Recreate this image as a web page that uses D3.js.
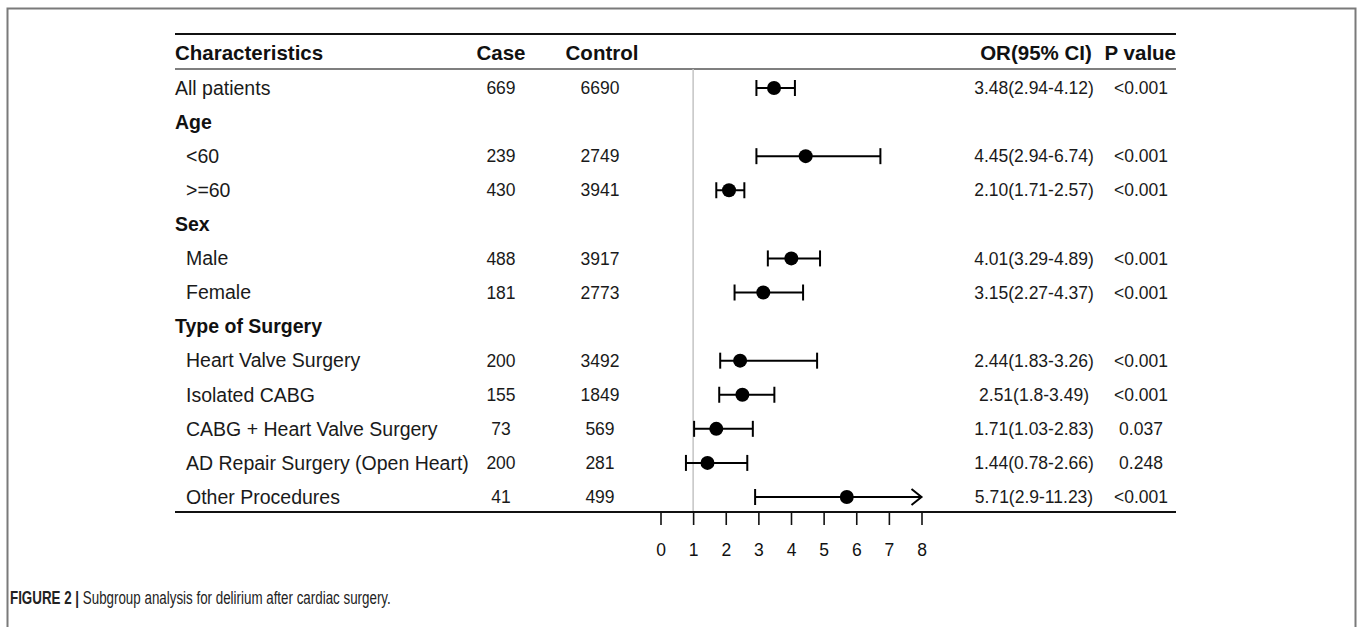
<!DOCTYPE html>
<html><head><meta charset="utf-8">
<script src="https://cdn.jsdelivr.net/npm/d3@7"></script>
<style>
html,body{margin:0;padding:0;background:#fff;}
svg{display:block;}
</style></head>
<body>
<svg id="chart" width="1363" height="627"></svg>
<script>
// ---- data ----
const labels = ["All patients","Age","<60",">=60","Sex","Male","Female","Type of Surgery",
  "Heart Valve Surgery","Isolated CABG","CABG + Heart Valve Surgery","AD Repair Surgery (Open Heart)","Other Procedures"];
const rowType = ["row","group","sub","sub","group","sub","sub","group","sub","sub","sub","sub","sub"];
const cases    = ["669","","239","430","","488","181","","200","155","73","200","41"];
const controls = ["6690","","2749","3941","","3917","2773","","3492","1849","569","281","499"];
const orVals   = [3.48,null,4.45,2.10,null,4.01,3.15,null,2.44,2.51,1.71,1.44,5.71];
const ciLow    = [2.94,null,2.94,1.71,null,3.29,2.27,null,1.83,1.80,1.03,0.78,2.90];
const ciHigh   = [4.12,null,6.74,2.57,null,4.89,4.37,null,4.80,3.49,2.83,2.66,11.23];
const orText   = ["3.48(2.94-4.12)","","4.45(2.94-6.74)","2.10(1.71-2.57)","","4.01(3.29-4.89)","3.15(2.27-4.37)","",
  "2.44(1.83-3.26)","2.51(1.8-3.49)","1.71(1.03-2.83)","1.44(0.78-2.66)","5.71(2.9-11.23)"];
const pText    = ["<0.001","","<0.001","<0.001","","<0.001","<0.001","","<0.001","<0.001","0.037","0.248","<0.001"];
const headers  = ["Characteristics","Case","Control","OR(95% CI)","P value"];
const xTicks   = [0,1,2,3,4,5,6,7,8];
const caption  = ["FIGURE 2 |", " Subgroup analysis for delirium after cardiac surgery."];

// ---- layout ----
const svg = d3.select("#chart");
const W = 1363, H = 627;
const tableL = 175, tableR = 1176;
const ruleTop = 34, headerY = 53, headerRule = 69, axisY = 512;
const colCase = 501, colControl = 600, colOR = 1034, colP = 1141;
const font = "'Liberation Sans', Arial, sans-serif";
const ink = "#1a1a1a";

const x = d3.scaleLinear().domain([0, 8]).range([660.5, 921.5]);
const y = d3.scalePoint().domain(d3.range(labels.length)).range([88, 497]);

svg.append("rect").attr("width", W).attr("height", H).attr("fill", "#fff");

// border
svg.append("path")
  .attr("d", `M7.5,${H} L7.5,8.5 L1355.5,8.5 L1355.5,${H}`)
  .attr("fill", "none").attr("stroke", "#7a7a7a").attr("stroke-width", 2);

// rules
svg.append("line").attr("x1", tableL).attr("x2", tableR).attr("y1", ruleTop).attr("y2", ruleTop)
  .attr("stroke", "#111").attr("stroke-width", 2);
svg.append("line").attr("x1", tableL).attr("x2", tableR).attr("y1", headerRule).attr("y2", headerRule)
  .attr("stroke", "#555").attr("stroke-width", 1.6);

// reference line at OR = 1
svg.append("line").attr("x1", x(1)).attr("x2", x(1)).attr("y1", headerRule).attr("y2", axisY)
  .attr("stroke", "#c4c4c4").attr("stroke-width", 1.5);

// headers
const hx = [tableL, colCase, colControl + 2, colOR + 2, tableR];
const hAnchor = ["start","middle","middle","middle","end"];
svg.selectAll("text.hdr").data(headers).join("text").attr("class","hdr")
  .attr("x", (d,i) => hx[i]).attr("y", headerY).attr("dy", "0.35em")
  .attr("text-anchor", (d,i) => hAnchor[i])
  .attr("font-family", font).attr("font-weight", "bold").attr("font-size", 20.5).attr("fill", "#111")
  .text(d => d);

// rows
const rows = svg.selectAll("g.row").data(labels).join("g").attr("class","row")
  .attr("transform", (d,i) => `translate(0,${y(i)})`);

rows.append("text")
  .attr("x", (d,i) => rowType[i] === "sub" ? tableL + 11 : tableL)
  .attr("dy", "0.35em")
  .attr("font-family", font)
  .attr("font-size", (d,i) => rowType[i] === "group" ? 19.5 : 19.5)
  .attr("font-weight", (d,i) => rowType[i] === "group" ? "bold" : "normal")
  .attr("fill", (d,i) => rowType[i] === "group" ? "#111" : ink)
  .text(d => d);

const numSize = 17.5;
rows.append("text").attr("x", colCase).attr("dy","0.35em").attr("text-anchor","middle")
  .attr("font-family", font).attr("font-size", numSize).attr("fill", ink).text((d,i) => cases[i]);
rows.append("text").attr("x", colControl).attr("dy","0.35em").attr("text-anchor","middle")
  .attr("font-family", font).attr("font-size", numSize).attr("fill", ink).text((d,i) => controls[i]);
rows.append("text").attr("x", colOR).attr("dy","0.35em").attr("text-anchor","middle")
  .attr("font-family", font).attr("font-size", numSize).attr("fill", ink).text((d,i) => orText[i]);
rows.append("text").attr("x", colP).attr("dy","0.35em").attr("text-anchor","middle")
  .attr("font-family", font).attr("font-size", numSize).attr("fill", ink).text((d,i) => pText[i]);

// forest marks
const xMax = x.domain()[1];
rows.each(function(d, i) {
  if (orVals[i] === null) return;
  const g = d3.select(this);
  const lo = x(ciLow[i]);
  const clipped = ciHigh[i] > xMax;
  const hi = x(Math.min(ciHigh[i], xMax));
  g.append("line").attr("x1", lo).attr("x2", hi).attr("y1", 0).attr("y2", 0)
    .attr("stroke", "#000").attr("stroke-width", 2);
  g.append("line").attr("x1", lo).attr("x2", lo).attr("y1", -8).attr("y2", 8)
    .attr("stroke", "#000").attr("stroke-width", 2);
  if (clipped) {
    g.append("path").attr("d", `M${hi-10},-8 L${hi},0 L${hi-10},8`)
      .attr("fill", "none").attr("stroke", "#000").attr("stroke-width", 2);
  } else {
    g.append("line").attr("x1", hi).attr("x2", hi).attr("y1", -8).attr("y2", 8)
      .attr("stroke", "#000").attr("stroke-width", 2);
  }
  g.append("circle").attr("cx", x(orVals[i])).attr("cy", 0).attr("r", 7).attr("fill", "#000");
});

// bottom rule / axis
svg.append("line").attr("x1", tableL).attr("x2", tableR).attr("y1", axisY).attr("y2", axisY)
  .attr("stroke", "#111").attr("stroke-width", 2);
const axis = d3.axisBottom(x).tickValues(xTicks).tickSize(13).tickPadding(19).tickFormat(d3.format("d"));
const ag = svg.append("g").attr("transform", `translate(0,${axisY})`).call(axis);
ag.select(".domain").remove();
ag.selectAll(".tick line").attr("stroke", "#111").attr("stroke-width", 1.6);
ag.selectAll(".tick text").attr("font-family", font).attr("font-size", 17.5).attr("fill", "#111");

// caption (condensed face: fitted horizontally)
const cap = svg.append("text").attr("x", 0).attr("y", 0)
  .attr("font-family", font).attr("font-size", 17.5).attr("fill", "#222");
cap.append("tspan").attr("font-weight", "bold").text(caption[0]);
cap.append("tspan").text(caption[1]);
const capW = cap.node().getComputedTextLength();
const targetW = 381;
cap.attr("transform", `translate(10,604) scale(${targetW / capW},1)`);
</script>
</body></html>
